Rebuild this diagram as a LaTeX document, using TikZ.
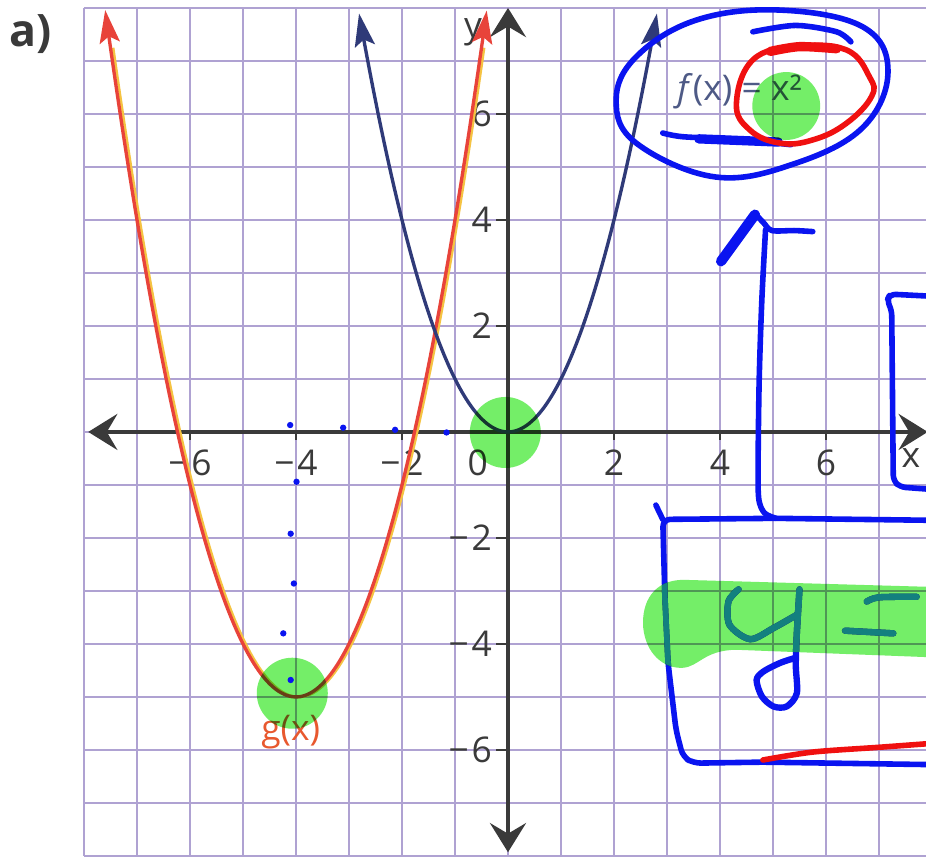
\documentclass[tikz,border=0pt]{standalone}
\usepackage{fontspec}
\setmainfont{Open Sans}
\usetikzlibrary{arrows.meta,positioning,calc}
\definecolor{gridLilac}{HTML}{AFA2D2}
\definecolor{axisGray}{HTML}{3A3A3A}
\definecolor{fNavy}{HTML}{2F3A78}
\definecolor{gRed}{HTML}{E8433A}
\definecolor{gFringe}{HTML}{F5C342}
\definecolor{labelSlate}{HTML}{4E5A86}
\definecolor{labelOrange}{HTML}{E8582E}
\definecolor{penBlue}{HTML}{0A14F0}
\definecolor{penRed}{HTML}{F01010}
\definecolor{penTeal}{HTML}{13807F}
\definecolor{markGreen}{HTML}{74EE68}

\begin{document}
\begin{tikzpicture}[font=\fontsize{19}{22}\selectfont,
  axis/.style={axisGray,line width=2.1pt,
    {Stealth[length=0.55cm,width=0.68cm,inset=0.2cm]}-{Stealth[length=0.55cm,width=0.68cm,inset=0.2cm]}},
  curve/.style={line width=1.8pt,
    {Stealth[length=0.62cm,width=0.38cm,inset=0.12cm]}-{Stealth[length=0.62cm,width=0.38cm,inset=0.12cm]}},
  ticklab/.style={text=axisGray,inner sep=1pt},
  pen/.style={penBlue,line width=3pt,line cap=round,line join=round},
  inkred/.style={penRed,line width=3pt,line cap=round,line join=round},
  marker/.style={fill=markGreen,blend mode=multiply}]
  \useasboundingbox (-9.585,-8.04) rectangle (7.887,8.15);
  \clip (-9.585,-8.04) rectangle (7.887,8.15);
  \fill[white] (-9.585,-8.04) rectangle (7.887,8.15);

  % grid paper
  \draw[gridLilac,line width=1pt] (-8,-8) grid (8.5,8);

  % axes
  \coordinate (xl) at (-7.92,0);
  \coordinate (xr) at (7.92,0);
  \coordinate (yb) at (0,-7.93);
  \coordinate (yt) at (0,8.0);
  \draw[axis] (xl) -- (xr);
  \draw[axis] (yb) -- (yt);
  \foreach \k in {2,4,6} {
    \draw[axisGray,line width=1.2pt] (\k,0) -- (\k,-0.15);
    \draw[axisGray,line width=1.2pt] (-\k,0) -- (-\k,-0.15);
    \draw[axisGray,line width=1.2pt] (0,\k) -- (-0.22,\k);
    \draw[axisGray,line width=1.2pt] (0,-\k) -- (-0.22,-\k);
    \node[ticklab] (xp\k) at (\k,-0.58) {\k};
    \node[ticklab] (xm\k) at (-\k,-0.58) {−\kern0.08em\k};
    \node[ticklab,anchor=east] (yp\k) at (-0.26,\k) {\k};
    \node[ticklab,anchor=east] (ym\k) at (-0.26,-\k) {−\kern0.08em\k};
  }
  \node[ticklab] (orig) at (-0.57,-0.58) {0};
  \node[ticklab] (xname) at (7.6,-0.5) {x};
  \node[ticklab] (yname) at (-0.66,7.55) {y};
  \node[text=axisGray,font=\fontsize{24}{26}\selectfont\bfseries] (part) at (-9.0,7.5) {a)};

  % the two parabolas
  \draw[gFringe,line width=1.4pt,xshift=0.05cm] plot[domain=-7.5:-0.5,samples=120] (\x,{(\x+4)^2-5});
  \draw[curve,gRed] plot[domain=-7.6:-0.4,samples=140] (\x,{(\x+4)^2-5});
  \draw[curve,fNavy] plot[domain=-2.81:2.81,samples=120] (\x,{\x*\x});
  \node[text=labelSlate] (flab) at (4.37,6.43) {\textit{f}(x) = x²};
  \node[text=labelOrange] (glab) at (-4.1,-5.66) {g(x)};

  % pen notes
  \draw[pen] plot[smooth cycle,tension=0.65] coordinates {(7.17,6.80) (6.70,7.64) (5.13,7.96)
    (3.55,7.77) (2.42,7.08) (2.04,6.26) (2.42,5.45) (3.92,4.81) (5.43,5.07) (6.70,5.75)};
  \draw[pen] plot[smooth] coordinates {(4.62,7.55) (5.43,7.67) (6.2,7.55) (6.47,7.36)};
  \draw[pen] plot[smooth] coordinates {(2.92,5.64) (3.3,5.57) (4.3,5.52) (5.34,5.42)};
  \draw[pen,line width=5pt] (3.6,5.53) -- (5.1,5.47);

  \draw[pen,line width=5.5pt] (4.02,3.22) -- (4.66,4.10);
  \draw[pen] plot[smooth] coordinates {(4.66,4.12) (4.82,3.95) (4.98,3.8) (5.4,3.8) (5.75,3.78)};
  \draw[pen] plot[smooth] coordinates {(4.86,3.82) (4.79,2.5) (4.74,1.0) (4.72,-0.5)
    (4.73,-1.25) (4.84,-1.53) (5.06,-1.63)};

  \draw[pen] (2.79,-1.38) -- (2.92,-1.65);
  \draw[pen,rounded corners=4pt] (8.2,-1.67) -- (5.06,-1.63) -- (2.92,-1.65) -- (2.96,-3.1)
    -- (3.02,-4.36) -- (3.17,-5.62) -- (3.30,-6.13) -- (3.5,-6.25) -- (4.8,-6.23) -- (8.2,-6.28);
  \draw[pen,rounded corners=3pt] (8.2,2.55) -- (7.21,2.6) -- (7.15,2.48) -- (7.24,2.3)
    -- (7.27,-0.92) -- (7.4,-1.04) -- (8.2,-1.1);

  \draw[pen,line width=3.4pt] plot[smooth] coordinates {(4.35,-2.97) (4.16,-3.20) (4.18,-3.64)
    (4.57,-3.91) (5.01,-3.70) (5.45,-3.45)};
  \draw[pen,line width=3.4pt] plot[smooth] coordinates {(5.50,-2.97) (5.45,-3.8) (5.43,-4.4)
    (5.45,-4.93) (5.26,-5.18) (5.01,-5.18) (4.79,-4.99) (4.69,-4.68) (4.82,-4.52) (5.13,-4.36) (5.43,-4.26)};
  \draw[pen,line width=3.4pt] plot[smooth] coordinates {(6.77,-3.20) (7.0,-3.12) (7.71,-3.11)};
  \draw[pen,line width=3.4pt] (6.36,-3.75) -- (7.27,-3.80);

  % highlighter marks
  \fill[marker] (-0.05,-0.01) circle (0.67);
  \fill[marker] (-4.07,-4.93) circle (0.67);
  \fill[marker] (5.25,6.15) circle (0.64);
  \fill[marker] (8.2,-2.93) -- (3.3,-2.79) .. controls (2.75,-2.8) and (2.52,-3.2) .. (2.55,-3.68)
    .. controls (2.6,-4.2) and (2.95,-4.47) .. (3.3,-4.45) .. controls (3.6,-4.43) and (3.7,-4.12) .. (4.3,-4.11)
    -- (8.2,-4.26) -- cycle;
  \begin{scope}
    \clip (8.2,-2.93) -- (3.3,-2.79) .. controls (2.75,-2.8) and (2.52,-3.2) .. (2.55,-3.68)
      .. controls (2.6,-4.2) and (2.95,-4.47) .. (3.3,-4.45) .. controls (3.6,-4.43) and (3.7,-4.12) .. (4.3,-4.11)
      -- (8.2,-4.26) -- cycle;
    \draw[pen,penTeal,line width=3.4pt] plot[smooth] coordinates {(4.35,-2.97) (4.16,-3.20) (4.18,-3.64)
      (4.57,-3.91) (5.01,-3.70) (5.45,-3.45)};
    \draw[pen,penTeal,line width=3.4pt] plot[smooth] coordinates {(5.50,-2.97) (5.45,-3.8) (5.43,-4.4)
      (5.45,-4.93)};
    \draw[pen,penTeal,line width=3.4pt] plot[smooth] coordinates {(6.77,-3.20) (7.0,-3.12) (7.71,-3.11)};
    \draw[pen,penTeal,line width=3.4pt] (6.36,-3.75) -- (7.27,-3.80);
    \draw[pen,penTeal] (2.92,-1.65) -- (2.96,-3.1) -- (3.02,-4.36) -- (3.17,-5.62);
  \end{scope}

  % red pen on top
  \draw[inkred] plot[smooth cycle,tension=0.7] coordinates {(4.31,6.20) (4.62,7.02) (5.44,7.27)
    (6.38,7.21) (6.82,6.70) (6.86,6.33) (6.38,5.82) (5.75,5.51) (5.13,5.45) (4.56,5.70)};
  \draw[inkred,line width=5pt] plot[smooth] coordinates {(4.95,7.18) (5.5,7.27) (6.2,7.23)};
  \draw[inkred] plot[smooth] coordinates {(4.81,-6.19) (5.75,-6.04) (7.0,-5.95) (7.95,-5.88)};

  % blue dots
  \foreach \p in {(-4.11,0.13),(-3.11,0.08),(-2.13,0.04),(-1.16,-0.01),(-3.99,-0.94),
                  (-4.1,-1.92),(-4.04,-2.86),(-4.24,-3.8),(-4.1,-4.68)}
    \fill[penBlue] \p circle (0.06);
\end{tikzpicture}
\end{document}
